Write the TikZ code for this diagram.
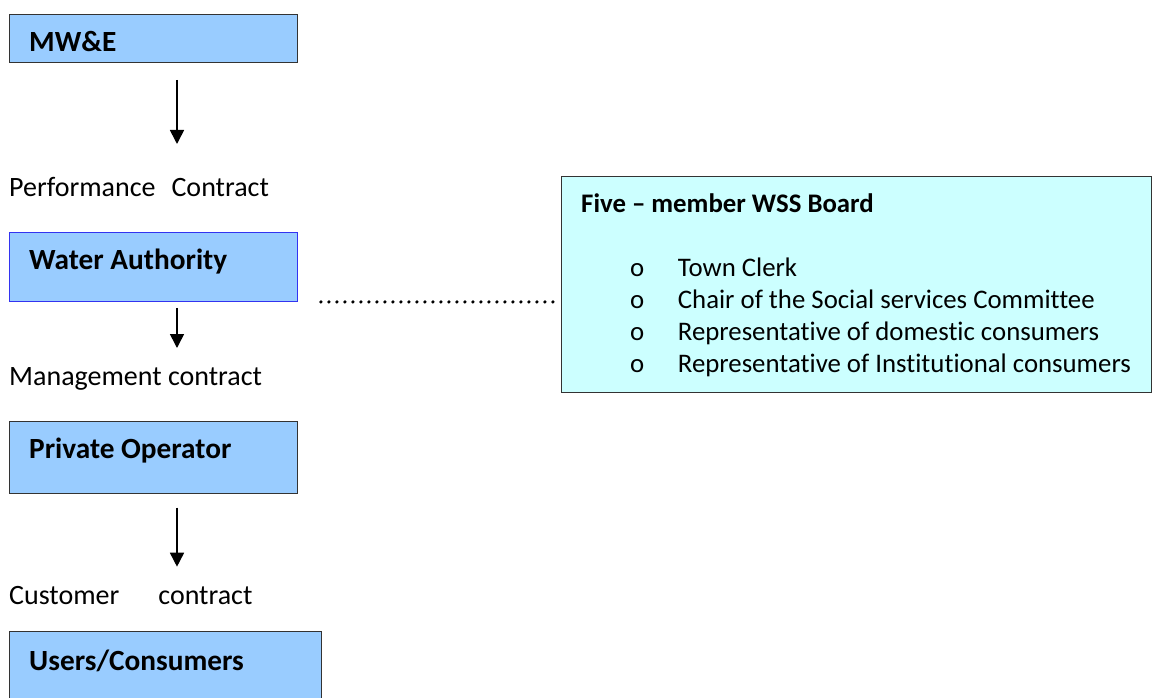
\documentclass[tikz,border=0pt]{standalone}
\usepackage{fontspec}
\setmainfont{Carlito}[Ligatures=NoCommon]
\usepackage{tikz}
\usepackage{xcolor}
\usetikzlibrary{calc,arrows.meta}
\newcommand{\chainfont}{\fontsize{28}{34}\selectfont}
\newcommand{\unitfont}{\fontsize{29.3}{35}\selectfont\bfseries}
\newcommand{\boardfont}{\fontsize{26.8}{32}\selectfont}
\definecolor{unit_fill}{HTML}{99CCFF}
\definecolor{board_fill}{HTML}{CCFFFF}
\definecolor{unit_edge}{HTML}{333333}
\definecolor{wa_edge}{HTML}{3333F0}
\tikzset{
    unitbox/.style={draw=unit_edge,fill=unit_fill,line width=0.9pt,anchor=north west,inner sep=0pt},
    unitname/.style={anchor=base west,inner sep=0pt,font=\unitfont},
    contract/.style={anchor=base west,inner sep=0pt,font=\chainfont},
    member/.style={anchor=base west,inner sep=0pt,font=\boardfont},
    flow/.style={-{Triangle[length=14pt,width=14pt]},line width=1.6pt},
    linkdots/.style={line width=3.6pt,line cap=round,dash pattern=on 0pt off 8pt},
}

\begin{document}
\begin{tikzpicture}[x=1pt,y=-1pt]
  \useasboundingbox (0,0) rectangle (1152,698);
  \coordinate (axis) at (177,0);
  % chain of units
  \node[unitbox,minimum width=288pt,minimum height=48pt] (mwe) at (9,14) {};
  \node[unitbox,draw=wa_edge,minimum width=288pt,minimum height=69pt] (wa) at (9,232) {};
  \node[unitbox,minimum width=288pt,minimum height=72pt] (po) at (9,421) {};
  \node[unitbox,minimum width=312pt,minimum height=80pt] (uc) at (9,631) {};
  \node[unitname] (mwe_name) at (29,52) {MW\&E};
  \node[unitname] (wa_name) at (29,269) {Water Authority};
  \node[unitname] (po_name) at (29,458) {Private Operator};
  \node[unitname] (uc_name) at (29,670) {Users/Consumers};
  % contracts
  \node[contract] (perf) at (9,196.7) {Performance\hspace{16pt}Contract};
  \node[contract] (mgmt) at (9,385) {Management contract};
  \node[contract] (cust) at (9,604) {Customer\hspace{39pt}contract};
  \draw[flow,shorten <=17pt,shorten >=52.7pt] (mwe.south -| axis) -- (perf.base -| axis);
  \draw[flow,shorten <=6pt,shorten >=37pt] (wa.south -| axis) -- (mgmt.base -| axis);
  \draw[flow,xshift=-2pt,shorten <=13.7pt,shorten >=37.3pt] (po.south -| axis) -- (cust.base -| axis);
  % board
  \node[unitbox,fill=board_fill,minimum width=590pt,minimum height=215pt] (board) at (561,176.5) {};
  \node[member,font=\boardfont\bfseries] (board_name) at (581,212) {Five -- member WSS Board};
  \foreach \who [count=\i] in {Town Clerk,Chair of the Social services Committee,
      Representative of domestic consumers,Representative of Institutional consumers}
  {
    \node[member] (dot\i) at (630,{243.8+32.2*\i}) {o};
    \node[member] (who\i) at (677.7,{243.8+32.2*\i}) {\who};
  }
  \draw[linkdots,shorten <=23pt,shorten >=6pt] (wa.south east) -- (wa.south east -| board.west);
\end{tikzpicture}
\end{document}
